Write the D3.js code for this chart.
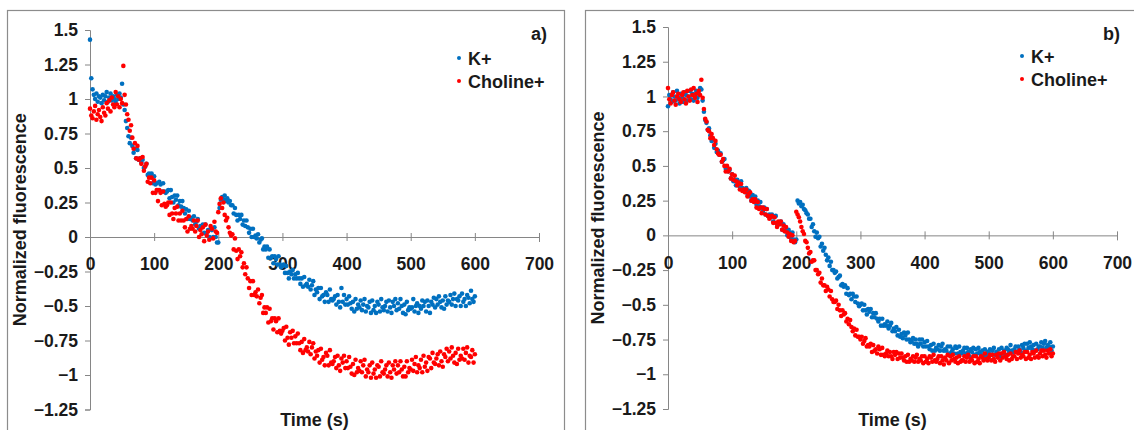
<!DOCTYPE html>
<html>
<head>
<meta charset="utf-8">
<script src="https://cdn.jsdelivr.net/npm/d3@7"></script>
<style>
  body { margin: 0; background: #fff; }
  svg { display: block; font-family: "Liberation Sans", Arial, sans-serif; font-weight: bold; }
</style>
</head>
<body>
<div class="canvas"></div>
<script>
// sampling instants (s), one reading every 2 s
const time = d3.range(0, 601, 2);

const seriesNames = ['K+', 'Choline+'];
const xTicks = [0, 100, 200, 300, 400, 500, 600, 700];
const yTicks = [1.5, 1.25, 1, 0.75, 0.5, 0.25, 0, -0.25, -0.5, -0.75, -1, -1.25];
const panelTags = ['a)', 'b)'];

// panel a) K+
const kA = [
  1.43, 1.15, 1.07, 1.03, 1.00, 1.04, 0.98, 1.02, 1.01, 0.97,
  1.03, 0.99, 1.02, 1.05, 0.98, 1.01, 1.04, 0.99, 1.02, 1.00,
  0.98, 1.03, 1.00, 1.04, 1.01, 1.11, 0.96, 0.92, 0.84, 0.79,
  0.73, 0.68, 0.72, 0.66, 0.61, 0.64, 0.57, 0.63, 0.56, 0.57,
  0.54, 0.56, 0.50, 0.51, 0.53, 0.45, 0.46, 0.44, 0.46, 0.39,
  0.44, 0.38, 0.39, 0.34, 0.40, 0.38, 0.33, 0.39, 0.33, 0.32,
  0.33, 0.34, 0.28, 0.34, 0.29, 0.25, 0.30, 0.27, 0.30, 0.23,
  0.26, 0.22, 0.26, 0.21, 0.17, 0.20, 0.13, 0.19, 0.13, 0.14,
  0.12, 0.15, 0.09, 0.11, 0.13, 0.06, 0.08, 0.07, 0.09, 0.03,
  0.09, 0.03, 0.05, 0.00, 0.06, 0.05, 0.00, 0.07, 0.00, -0.04,
  -0.04, 0.21, 0.27, 0.29, 0.27, 0.30, 0.26, 0.28, 0.25, 0.26,
  0.23, 0.23, 0.17, 0.21, 0.16, 0.12, 0.16, 0.13, 0.16, 0.09,
  0.12, 0.08, 0.12, 0.07, 0.03, 0.06, 0.00, 0.06, 0.00, 0.01,
  -0.01, 0.02, -0.04, -0.02, -0.01, -0.09, -0.07, -0.09, -0.07, -0.15,
  -0.09, -0.15, -0.14, -0.19, -0.14, -0.16, -0.20, -0.14, -0.20, -0.22,
  -0.21, -0.20, -0.26, -0.21, -0.26, -0.30, -0.25, -0.27, -0.24, -0.30,
  -0.27, -0.30, -0.26, -0.30, -0.34, -0.30, -0.36, -0.29, -0.35, -0.34,
  -0.36, -0.31, -0.38, -0.35, -0.32, -0.42, -0.38, -0.40, -0.37, -0.45,
  -0.37, -0.43, -0.42, -0.47, -0.40, -0.42, -0.47, -0.38, -0.45, -0.46,
  -0.45, -0.43, -0.49, -0.42, -0.47, -0.51, -0.37, -0.47, -0.42, -0.49,
  -0.45, -0.49, -0.43, -0.48, -0.52, -0.47, -0.54, -0.45, -0.52, -0.49,
  -0.51, -0.46, -0.53, -0.49, -0.45, -0.54, -0.50, -0.51, -0.47, -0.55,
  -0.46, -0.53, -0.50, -0.55, -0.47, -0.49, -0.54, -0.45, -0.51, -0.53,
  -0.50, -0.47, -0.54, -0.46, -0.51, -0.55, -0.47, -0.50, -0.45, -0.53,
  -0.48, -0.52, -0.45, -0.50, -0.55, -0.49, -0.56, -0.47, -0.53, -0.51,
  -0.52, -0.51, -0.45, -0.54, -0.50, -0.48, -0.55, -0.50, -0.52, -0.46,
  -0.50, -0.47, -0.54, -0.46, -0.50, -0.55, -0.47, -0.49, -0.44, -0.51,
  -0.45, -0.49, -0.43, -0.47, -0.51, -0.46, -0.52, -0.43, -0.49, -0.46,
  -0.47, -0.42, -0.49, -0.45, -0.41, -0.50, -0.45, -0.46, -0.43, -0.50,
  -0.41, -0.47, -0.45, -0.50, -0.42, -0.44, -0.48, -0.39, -0.45, -0.47,
  -0.43
];

// panel a) Choline+
const cA = [
  0.93, 0.88, 0.86, 0.91, 0.95, 0.85, 0.89, 0.92, 0.87, 0.84,
  0.94, 0.90, 0.88, 0.97, 0.93, 0.99, 0.91, 1.01, 0.96, 0.94,
  1.05, 0.96, 1.02, 0.94, 1.00, 0.97, 1.24, 1.03, 0.96, 0.89,
  0.85, 0.77, 0.81, 0.72, 0.64, 0.68, 0.57, 0.66, 0.56, 0.57,
  0.53, 0.58, 0.48, 0.51, 0.53, 0.40, 0.43, 0.39, 0.43, 0.32,
  0.41, 0.32, 0.34, 0.26, 0.34, 0.32, 0.23, 0.33, 0.24, 0.22,
  0.23, 0.25, 0.16, 0.25, 0.17, 0.13, 0.21, 0.17, 0.22, 0.12,
  0.17, 0.12, 0.19, 0.12, 0.07, 0.13, 0.04, 0.15, 0.06, 0.08,
  0.06, 0.12, 0.04, 0.08, 0.12, 0.00, 0.05, 0.02, 0.07, -0.03,
  0.09, 0.01, 0.04, -0.02, 0.08, 0.06, -0.01, 0.11, 0.04, 0.03,
  0.18, 0.24, 0.28, 0.21, 0.25, 0.16, 0.12, 0.14, 0.07, 0.03,
  0.01, 0.02, -0.09, -0.01, -0.10, -0.16, -0.09, -0.14, -0.11, -0.22,
  -0.19, -0.27, -0.22, -0.30, -0.37, -0.32, -0.42, -0.32, -0.42, -0.40,
  -0.43, -0.38, -0.48, -0.44, -0.42, -0.55, -0.51, -0.55, -0.51, -0.62,
  -0.52, -0.61, -0.59, -0.67, -0.59, -0.61, -0.69, -0.59, -0.68, -0.70,
  -0.68, -0.66, -0.75, -0.65, -0.73, -0.78, -0.69, -0.73, -0.68, -0.77,
  -0.72, -0.77, -0.70, -0.77, -0.82, -0.76, -0.84, -0.74, -0.82, -0.80,
  -0.83, -0.76, -0.85, -0.80, -0.77, -0.88, -0.83, -0.86, -0.82, -0.91,
  -0.81, -0.89, -0.87, -0.93, -0.84, -0.86, -0.93, -0.82, -0.91, -0.92,
  -0.90, -0.87, -0.95, -0.86, -0.93, -0.97, -0.88, -0.91, -0.86, -0.95,
  -0.90, -0.95, -0.87, -0.94, -0.99, -0.92, -1.00, -0.89, -0.98, -0.95,
  -0.97, -0.90, -0.98, -0.93, -0.89, -1.01, -0.96, -0.98, -0.93, -1.02,
  -0.91, -0.99, -0.96, -1.02, -0.93, -0.94, -1.01, -0.90, -0.98, -0.99,
  -0.96, -0.93, -1.01, -0.91, -0.98, -1.02, -0.93, -0.96, -0.90, -0.99,
  -0.93, -0.98, -0.90, -0.96, -1.01, -0.94, -1.01, -0.90, -0.98, -0.95,
  -0.96, -0.89, -0.97, -0.92, -0.87, -0.98, -0.93, -0.95, -0.89, -0.98,
  -0.86, -0.94, -0.91, -0.97, -0.87, -0.88, -0.95, -0.84, -0.91, -0.92,
  -0.88, -0.85, -0.93, -0.83, -0.90, -0.94, -0.85, -0.87, -0.81, -0.90,
  -0.83, -0.88, -0.80, -0.86, -0.91, -0.84, -0.92, -0.81, -0.89, -0.86,
  -0.88, -0.81, -0.89, -0.84, -0.80, -0.91, -0.86, -0.87, -0.82, -0.91,
  -0.85
];

// panel b) K+
const kB = [
  0.93, 1.01, 0.98, 0.96, 1.03, 1.00, 0.97, 1.04, 0.99, 0.95,
  1.02, 0.99, 0.96, 1.03, 1.01, 0.97, 1.00, 1.04, 0.98, 1.02,
  0.97, 1.01, 1.04, 0.99, 1.02, 1.06, 1.05, 0.97, 0.89, 0.83,
  0.81, 0.76, 0.77, 0.72, 0.68, 0.69, 0.63, 0.66, 0.60, 0.61,
  0.58, 0.59, 0.53, 0.54, 0.55, 0.48, 0.48, 0.46, 0.47, 0.41,
  0.44, 0.39, 0.40, 0.36, 0.40, 0.38, 0.35, 0.39, 0.34, 0.32,
  0.33, 0.34, 0.29, 0.32, 0.28, 0.25, 0.29, 0.26, 0.28, 0.22,
  0.25, 0.21, 0.24, 0.20, 0.17, 0.20, 0.15, 0.19, 0.14, 0.15,
  0.13, 0.15, 0.10, 0.13, 0.14, 0.08, 0.09, 0.08, 0.10, 0.04,
  0.08, 0.03, 0.04, 0.00, 0.04, 0.02, -0.02, 0.02, -0.03, -0.05,
  -0.03, 0.25, 0.23, 0.24, 0.21, 0.22, 0.19, 0.18, 0.16, 0.15,
  0.12, 0.12, 0.06, 0.08, 0.03, -0.01, 0.02, -0.02, -0.01, -0.08,
  -0.06, -0.11, -0.09, -0.14, -0.18, -0.16, -0.22, -0.19, -0.25, -0.25,
  -0.27, -0.26, -0.31, -0.30, -0.29, -0.36, -0.35, -0.37, -0.36, -0.42,
  -0.38, -0.43, -0.42, -0.46, -0.42, -0.44, -0.48, -0.44, -0.49, -0.51,
  -0.50, -0.49, -0.54, -0.50, -0.54, -0.57, -0.53, -0.55, -0.53, -0.59,
  -0.56, -0.59, -0.56, -0.60, -0.62, -0.60, -0.65, -0.60, -0.65, -0.64,
  -0.65, -0.62, -0.67, -0.65, -0.63, -0.69, -0.67, -0.69, -0.66, -0.72,
  -0.68, -0.73, -0.71, -0.74, -0.70, -0.72, -0.75, -0.70, -0.75, -0.77,
  -0.76, -0.74, -0.78, -0.75, -0.78, -0.80, -0.75, -0.78, -0.75, -0.80,
  -0.77, -0.80, -0.76, -0.80, -0.82, -0.79, -0.83, -0.78, -0.83, -0.81,
  -0.82, -0.79, -0.83, -0.80, -0.78, -0.83, -0.82, -0.83, -0.80, -0.85,
  -0.80, -0.84, -0.82, -0.85, -0.80, -0.81, -0.85, -0.80, -0.84, -0.85,
  -0.83, -0.81, -0.85, -0.81, -0.84, -0.87, -0.82, -0.84, -0.81, -0.86,
  -0.82, -0.85, -0.81, -0.84, -0.86, -0.83, -0.87, -0.82, -0.86, -0.84,
  -0.84, -0.82, -0.86, -0.83, -0.81, -0.86, -0.84, -0.85, -0.82, -0.87,
  -0.81, -0.85, -0.83, -0.86, -0.81, -0.82, -0.84, -0.79, -0.83, -0.84,
  -0.82, -0.80, -0.84, -0.80, -0.82, -0.84, -0.79, -0.81, -0.78, -0.83,
  -0.78, -0.81, -0.77, -0.80, -0.82, -0.79, -0.83, -0.78, -0.82, -0.80,
  -0.80, -0.77, -0.81, -0.78, -0.76, -0.81, -0.79, -0.80, -0.77, -0.83,
  -0.80
];

// panel b) Choline+
const cB = [
  1.06, 0.98, 0.95, 1.01, 1.03, 0.97, 0.94, 1.00, 1.02, 0.98,
  0.96, 1.01, 1.03, 0.98, 0.95, 1.04, 1.00, 0.97, 1.05, 1.01,
  1.06, 0.99, 1.02, 0.96, 1.04, 1.01, 1.12, 0.99, 0.91, 0.84,
  0.82, 0.76, 0.75, 0.70, 0.73, 0.70, 0.65, 0.68, 0.62, 0.59,
  0.58, 0.58, 0.53, 0.55, 0.50, 0.46, 0.50, 0.46, 0.48, 0.41,
  0.44, 0.40, 0.43, 0.39, 0.36, 0.38, 0.33, 0.37, 0.32, 0.33,
  0.31, 0.33, 0.28, 0.30, 0.31, 0.25, 0.26, 0.24, 0.26, 0.20,
  0.24, 0.19, 0.20, 0.16, 0.20, 0.19, 0.15, 0.19, 0.14, 0.12,
  0.13, 0.14, 0.09, 0.13, 0.09, 0.06, 0.10, 0.08, 0.10, 0.04,
  0.07, 0.03, 0.06, 0.02, -0.01, 0.01, -0.04, 0.00, -0.05, -0.04,
  0.17, 0.15, 0.13, 0.10, 0.06, 0.03, 0.01, -0.04, -0.05, -0.09,
  -0.13, -0.12, -0.19, -0.18, -0.18, -0.25, -0.25, -0.28, -0.27, -0.34,
  -0.31, -0.36, -0.36, -0.40, -0.37, -0.39, -0.44, -0.40, -0.46, -0.48,
  -0.48, -0.47, -0.53, -0.50, -0.54, -0.58, -0.54, -0.57, -0.56, -0.62,
  -0.60, -0.64, -0.61, -0.66, -0.69, -0.67, -0.72, -0.68, -0.73, -0.73,
  -0.75, -0.73, -0.78, -0.76, -0.74, -0.80, -0.79, -0.80, -0.78, -0.84,
  -0.79, -0.83, -0.82, -0.85, -0.80, -0.82, -0.86, -0.81, -0.86, -0.87,
  -0.85, -0.83, -0.87, -0.84, -0.87, -0.89, -0.84, -0.86, -0.84, -0.89,
  -0.85, -0.88, -0.85, -0.88, -0.90, -0.87, -0.91, -0.86, -0.91, -0.89,
  -0.90, -0.87, -0.91, -0.88, -0.86, -0.91, -0.89, -0.90, -0.87, -0.92,
  -0.87, -0.91, -0.89, -0.92, -0.87, -0.88, -0.91, -0.86, -0.90, -0.91,
  -0.89, -0.87, -0.92, -0.87, -0.90, -0.93, -0.88, -0.90, -0.86, -0.92,
  -0.87, -0.90, -0.86, -0.89, -0.91, -0.88, -0.92, -0.87, -0.91, -0.90,
  -0.90, -0.87, -0.91, -0.88, -0.86, -0.91, -0.89, -0.90, -0.87, -0.92,
  -0.87, -0.91, -0.89, -0.92, -0.87, -0.88, -0.90, -0.85, -0.89, -0.90,
  -0.88, -0.86, -0.90, -0.86, -0.89, -0.91, -0.86, -0.88, -0.85, -0.90,
  -0.85, -0.88, -0.84, -0.87, -0.89, -0.86, -0.90, -0.85, -0.89, -0.87,
  -0.87, -0.84, -0.89, -0.85, -0.83, -0.88, -0.86, -0.87, -0.84, -0.89,
  -0.84, -0.88, -0.86, -0.89, -0.84, -0.85, -0.88, -0.83, -0.87, -0.88,
  -0.85, -0.83, -0.87, -0.83, -0.86, -0.88, -0.83, -0.85, -0.82, -0.87,
  -0.85
];

const colours = ['#0070C0', '#FF0000'];
const axisGrey = '#868686';

const svg = d3.select('.canvas')
    .append('svg')
    .attr('width', 1134)
    .attr('height', 430);

// frame + plot geometry for each panel
const panels = [
    {frame: [7, 10, 557], x0: 90, y: [409.5, 30], series: [kA, cA], tag: panelTags[0],
     tagX: 547, legendX: 459, legendY: 59},
    {frame: [585, 10, 560], x0: 668, y: [409, 27], series: [kB, cB], tag: panelTags[1],
     tagX: 1120, legendX: 1022, legendY: 57}
];

const drawPanel = (p) => {
    const x = d3.scaleLinear().domain([0, 700]).range([p.x0, p.x0 + 449]);
    const y = d3.scaleLinear().domain([-1.25, 1.5]).range(p.y);

    svg.append('rect')
        .attr('x', p.frame[0] + 0.5)
        .attr('y', p.frame[1] + 0.5)
        .attr('width', p.frame[2])
        .attr('height', 440)
        .attr('fill', 'none')
        .attr('stroke', '#8c8c8c')
        .attr('stroke-width', 1.2);

    // y axis
    const yAxis = svg.append('g')
        .attr('transform', `translate(${p.x0}, 0)`)
        .call(d3.axisLeft(y).tickValues(yTicks).tickSizeOuter(0).tickSize(5).tickPadding(7)
            .tickFormat(d => d3.format('')(d)));
    yAxis.select('.domain').attr('stroke', axisGrey);
    yAxis.selectAll('.tick line').attr('stroke', axisGrey);
    yAxis.selectAll('text').attr('font-size', 17.5).attr('fill', '#1a1a1a')
        .attr('font-family', '"Liberation Sans", Arial, sans-serif').attr('font-weight', 'bold');

    // x axis sits on y = 0
    const xAxis = svg.append('g')
        .attr('transform', `translate(0, ${y(0)})`)
        .call(d3.axisBottom(x).tickValues(xTicks).tickSizeOuter(0).tickSize(5).tickPadding(16));
    xAxis.select('.domain').attr('stroke', axisGrey);
    xAxis.selectAll('.tick line').attr('stroke', axisGrey).attr('y1', -4).attr('y2', 4);
    xAxis.selectAll('text').attr('font-size', 17.5).attr('fill', '#1a1a1a')
        .attr('font-family', '"Liberation Sans", Arial, sans-serif').attr('font-weight', 'bold');

    // scatter points, K+ first then Choline+ on top
    p.series.forEach((vals, si) => {
        svg.append('g')
            .selectAll('circle')
            .data(vals)
            .enter().append('circle')
            .attr('cx', (d, i) => x(time[i]))
            .attr('cy', d => y(d))
            .attr('r', 2.3)
            .attr('fill', colours[si]);
    });

    // axis titles
    svg.append('text')
        .attr('transform', `translate(${p.x0 - 64}, ${y(0.125)}) rotate(-90)`)
        .attr('text-anchor', 'middle')
        .attr('font-size', 18)
        .attr('fill', '#1a1a1a')
        .text('Normalized fluorescence');

    svg.append('text')
        .attr('x', x(350))
        .attr('y', 426)
        .attr('text-anchor', 'middle')
        .attr('font-size', 18)
        .attr('fill', '#1a1a1a')
        .text('Time (s)');

    // panel tag and legend
    svg.append('text')
        .attr('x', p.tagX)
        .attr('y', 40)
        .attr('text-anchor', 'end')
        .attr('font-size', 18)
        .attr('fill', '#1a1a1a')
        .text(p.tag);

    const legend = svg.append('g')
        .attr('transform', `translate(${p.legendX}, ${p.legendY})`);
    seriesNames.forEach((name, i) => {
        legend.append('circle')
            .attr('cx', 0)
            .attr('cy', i * 23 - 1)
            .attr('r', 2)
            .attr('fill', colours[i]);
        legend.append('text')
            .attr('x', 9)
            .attr('y', i * 23 + 6)
            .attr('font-size', 18)
            .attr('fill', '#1a1a1a')
            .text(name);
    });
};

panels.forEach(drawPanel);
</script>
</body>
</html>
